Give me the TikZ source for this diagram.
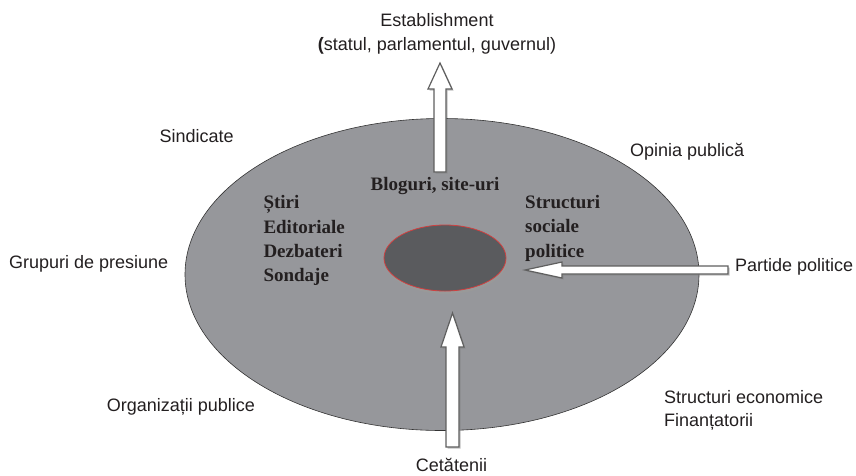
\documentclass[tikz,border=0pt]{standalone}
\usepackage{fontspec}
\setmainfont{Liberation Sans}
\newfontfamily\serifb{Liberation Serif}
\usetikzlibrary{shadows,shapes.geometric}
\definecolor{outerg}{RGB}{150,151,155}
\definecolor{innerg}{RGB}{90,91,94}
\definecolor{ring}{RGB}{208,64,64}
\definecolor{txt}{RGB}{35,31,32}
\definecolor{arrowedge}{RGB}{95,95,95}
\tikzset{
  lbl/.style={font=\fontsize{18}{23}\selectfont, text=txt, inner sep=0pt, anchor=base west},
  inlbl/.style={font=\serifb\bfseries\fontsize{19}{24}\selectfont, text=txt, inner sep=0pt, anchor=base west},
  bigarrow/.style={draw=arrowedge, fill=white, line width=1.2pt, line join=miter,
     drop shadow={shadow xshift=1.5pt, shadow yshift=-1.5pt, fill=black!50, opacity=0.5}},
}
\begin{document}
\begin{tikzpicture}[x=1pt,y=-1pt]
\useasboundingbox (0,0) rectangle (856,475);
% outer ellipse
\node (outer) [draw=black!80, line width=0.6pt, fill=outerg, ellipse, minimum width=514pt, minimum height=312pt, inner sep=0pt] at (442,274.5) {};
% inner ellipse
\node (innersh) [fill=black!40, ellipse, minimum width=122pt, minimum height=66pt, inner sep=0pt] at (446,261) {};
\node (inner) [draw=ring, line width=0.8pt, fill=innerg, ellipse, minimum width=122pt, minimum height=66pt, inner sep=0pt] at (445,258) {};
% arrows
\path[bigarrow] (434,172) -- (434,89) -- (428,89) -- (440,63) -- (452,89) -- (446,89) -- (446,172) -- cycle;
\path[bigarrow] (446,447) -- (446,347) -- (441,347) -- (452.5,313) -- (464,347) -- (459,347) -- (459,447) -- cycle;
\path[bigarrow] (728,266) -- (562,266) -- (562,262) -- (525,270) -- (562,278) -- (562,274) -- (728,274) -- cycle;
% labels
\node[lbl, anchor=base] (est1) at (437,26.7) {Establishment};
\node[lbl, anchor=base] (est2) at (437,50) {{\bfseries(}statul, parlamentul, guvernul)};
\node[lbl] (sind) at (159.5,142.7) {Sindicate};
\node[lbl] (opin) at (630,156.7) {Opinia publică};
\node[lbl] (grup) at (9,268.3) {Grupuri de presiune};
\node[lbl] (part) at (735,271.7) {Partide politice};
\node[lbl] (org) at (106.7,411) {Organizații publice};
\node[lbl] (econ1) at (664,403) {Structuri economice};
\node[lbl] (econ2) at (664,426) {Finanțatorii};
\node[lbl, anchor=base] (cet) at (451.5,471.5) {Cetătenii};
% inner labels
\node[inlbl, anchor=base] (blog) at (435,190) {Bloguri, site-uri};
\node[inlbl] (st1) at (263.3,208.3) {Știri};
\node[inlbl] (st2) at (263.3,233.3) {Editoriale};
\node[inlbl] (st3) at (263.3,257.3) {Dezbateri};
\node[inlbl] (st4) at (263.3,281.7) {Sondaje};
\node[inlbl] (sp1) at (525,208.3) {Structuri};
\node[inlbl] (sp2) at (525,232.7) {sociale};
\node[inlbl] (sp3) at (525,257) {politice};
\end{tikzpicture}
\end{document}
